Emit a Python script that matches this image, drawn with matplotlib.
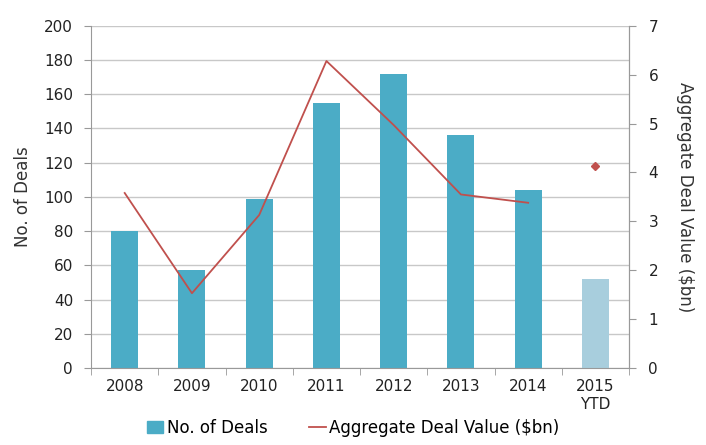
from matplotlib import pyplot as plt
from matplotlib.patches import Patch
from matplotlib.lines import Line2D

years = ["2008", "2009", "2010", "2011", "2012", "2013", "2014", "2015\nYTD"]
deals = [80, 57, 99, 155, 172, 136, 104, 52]
deal_value = [3.58, 1.53, 3.13, 6.28, 4.97, 3.55, 3.38]  # 2008-2014
ytd_value = 4.14  # 2015 YTD, shown as a point

bar_col = "#4bacc6"
ytd_col = "#a8cedd"
line_col = "#c0504d"
grid_col = "#c8c8c8"

plt.rcParams["font.family"] = ["DejaVu Sans"]
plt.rcParams["font.size"] = 11

fig = plt.figure(figsize=(7.06, 4.45), dpi=100)
ax = fig.add_axes([0.129, 0.173, 0.762, 0.769])
x = list(range(len(years)))
colors = [bar_col] * (len(years) - 1) + [ytd_col]
ax.bar(x, deals, width=0.4, color=colors, zorder=2)
ax.set_xlim(-0.5, len(years) - 0.5)
ax.set_ylim(0, 200)
ax.set_yticks(range(0, 201, 20))
ax.set_xticks(x)
ax.set_xticklabels(years, color="#222222")
ax.set_xticks([i + 0.5 for i in range(-1, len(years))], minor=True)
ax.tick_params(axis="x", which="major", length=0, pad=8)
ax.tick_params(axis="x", which="minor", length=5, color="#999999")
ax.tick_params(axis="y", length=5, color="#999999", colors="#222222", pad=8)
ax.grid(axis="y", color=grid_col, linewidth=1, zorder=0)
ax.set_ylabel("No. of Deals", color="#333333", fontsize=12, labelpad=9)
ax.spines["top"].set_visible(False)
for s in ["left", "bottom", "right"]:
    ax.spines[s].set_color("#999999")

ax2 = ax.twinx()
ax2.plot(x[:len(deal_value)], deal_value, color=line_col, linewidth=1.3, zorder=3)
ax2.plot([x[-1]], [ytd_value], marker="D", markersize=4, color=line_col, linestyle="none")
ax2.set_ylim(0, 7)
ax2.set_yticks(range(0, 8))
ax2.tick_params(axis="y", length=5, color="#999999", colors="#222222", pad=9)
ax2.set_ylabel("Aggregate Deal Value ($bn)", color="#333333", fontsize=12,
               rotation=270, labelpad=26)
ax2.spines["top"].set_visible(False)
ax2.spines["right"].set_color("#999999")
ax2.spines["left"].set_visible(False)
ax2.spines["bottom"].set_visible(False)

handles = [Patch(color=bar_col), Line2D([0], [0], color=line_col, linewidth=1.3)]
fig.legend(handles, ["No. of Deals", "Aggregate Deal Value ($bn)"], loc="lower center",
           bbox_to_anchor=(0.5, -0.015), ncol=2, frameon=False, fontsize=12,
           handlelength=1.0, handletextpad=0.2, columnspacing=2.5)

fig.savefig("out.png", dpi=100)
